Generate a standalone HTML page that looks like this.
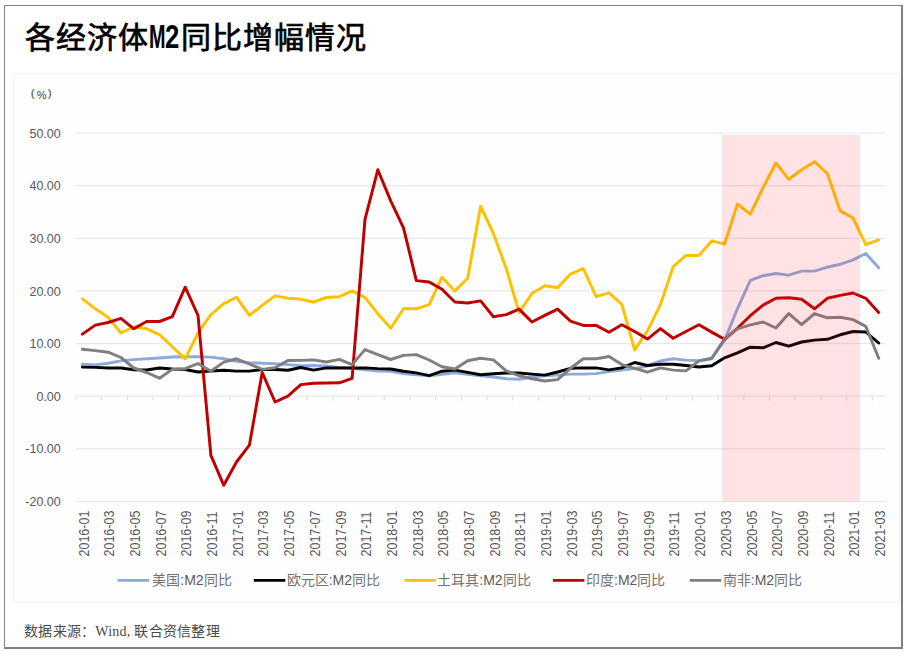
<!DOCTYPE html>
<html lang="zh-CN"><head><meta charset="utf-8"><title>各经济体M2同比增幅情况</title>
<style>
html,body{margin:0;padding:0;background:#fff;}
body{width:911px;height:657px;position:relative;overflow:hidden;font-family:'Liberation Sans', sans-serif;}
.frame{position:absolute;left:4px;top:5px;width:896px;height:641px;border-left:1px solid #7f7f7f;border-top:1px solid #7f7f7f;border-right:2px solid #7f7f7f;border-bottom:2px solid #7f7f7f;}
.title{position:absolute;left:25px;top:18px;font-size:30px;letter-spacing:1px;font-weight:500;-webkit-text-stroke:0.7px #000;color:#000;line-height:40px;white-space:nowrap;}
.mm{display:inline-block;width:16.1px;letter-spacing:0;font-weight:bold;-webkit-text-stroke:0;}
.mm span{display:inline-block;transform:scale(0.66,1.09);transform-origin:0 76%;}
.m2{display:inline-block;width:15.9px;letter-spacing:0;font-weight:bold;-webkit-text-stroke:0;}
.m2 span{display:inline-block;transform:scale(0.857,1.09);transform-origin:0 76%;}
.src{position:absolute;left:24px;top:622px;font-size:14px;letter-spacing:0.25px;color:#4a4a4a;line-height:20px;white-space:nowrap;font-family:'Liberation Serif',serif;}
svg{position:absolute;left:0;top:0;}
svg text{font-family:'Liberation Sans', sans-serif;}
</style></head>
<body>
<div class="frame"></div>
<svg width="911" height="657" viewBox="0 0 911 657">
<rect x="13.5" y="73.5" width="886" height="528.5" fill="#fefefe" stroke="#f3f3f3" stroke-width="1"/>
<line x1="76" x2="885.5" y1="133.00" y2="133.00" stroke="#000" stroke-opacity="0.09" stroke-width="1.2"/>
<line x1="76" x2="885.5" y1="185.64" y2="185.64" stroke="#000" stroke-opacity="0.09" stroke-width="1.2"/>
<line x1="76" x2="885.5" y1="238.28" y2="238.28" stroke="#000" stroke-opacity="0.09" stroke-width="1.2"/>
<line x1="76" x2="885.5" y1="290.92" y2="290.92" stroke="#000" stroke-opacity="0.09" stroke-width="1.2"/>
<line x1="76" x2="885.5" y1="343.56" y2="343.56" stroke="#000" stroke-opacity="0.09" stroke-width="1.2"/>
<line x1="76" x2="885.5" y1="396.20" y2="396.20" stroke="#000" stroke-opacity="0.09" stroke-width="1.2"/>
<line x1="76" x2="885.5" y1="448.84" y2="448.84" stroke="#000" stroke-opacity="0.09" stroke-width="1.2"/>
<line x1="76" x2="885.5" y1="501.48" y2="501.48" stroke="#000" stroke-opacity="0.09" stroke-width="1.2"/>
<path d="M76.0 396.2V400.4 M101.7 396.2V400.4 M127.4 396.2V400.4 M153.1 396.2V400.4 M178.7 396.2V400.4 M204.4 396.2V400.4 M230.1 396.2V400.4 M255.8 396.2V400.4 M281.5 396.2V400.4 M307.2 396.2V400.4 M332.9 396.2V400.4 M358.5 396.2V400.4 M384.2 396.2V400.4 M409.9 396.2V400.4 M435.6 396.2V400.4 M461.3 396.2V400.4 M487.0 396.2V400.4 M512.7 396.2V400.4 M538.3 396.2V400.4 M564.0 396.2V400.4 M589.7 396.2V400.4 M615.4 396.2V400.4 M641.1 396.2V400.4 M666.8 396.2V400.4 M692.5 396.2V400.4 M718.1 396.2V400.4 M743.8 396.2V400.4 M769.5 396.2V400.4 M795.2 396.2V400.4 M820.9 396.2V400.4 M846.6 396.2V400.4 M872.3 396.2V400.4" stroke="#d9d9d9" stroke-width="1"/>
<text transform="translate(60.8,137.6) scale(0.965,1)" text-anchor="end" font-size="13" fill="#595959">50.00</text>
<text transform="translate(60.8,190.2) scale(0.965,1)" text-anchor="end" font-size="13" fill="#595959">40.00</text>
<text transform="translate(60.8,242.9) scale(0.965,1)" text-anchor="end" font-size="13" fill="#595959">30.00</text>
<text transform="translate(60.8,295.5) scale(0.965,1)" text-anchor="end" font-size="13" fill="#595959">20.00</text>
<text transform="translate(60.8,348.2) scale(0.965,1)" text-anchor="end" font-size="13" fill="#595959">10.00</text>
<text transform="translate(60.8,400.8) scale(0.965,1)" text-anchor="end" font-size="13" fill="#595959">0.00</text>
<text transform="translate(60.8,453.4) scale(0.965,1)" text-anchor="end" font-size="13" fill="#595959">-10.00</text>
<text transform="translate(60.8,506.1) scale(0.965,1)" text-anchor="end" font-size="13" fill="#595959">-20.00</text>
<text transform="translate(88.6,556.5) rotate(-90) scale(1,1.1)" font-size="12.5" fill="#595959">2016-01</text>
<text transform="translate(114.3,556.5) rotate(-90) scale(1,1.1)" font-size="12.5" fill="#595959">2016-03</text>
<text transform="translate(140.0,556.5) rotate(-90) scale(1,1.1)" font-size="12.5" fill="#595959">2016-05</text>
<text transform="translate(165.7,556.5) rotate(-90) scale(1,1.1)" font-size="12.5" fill="#595959">2016-07</text>
<text transform="translate(191.4,556.5) rotate(-90) scale(1,1.1)" font-size="12.5" fill="#595959">2016-09</text>
<text transform="translate(217.1,556.5) rotate(-90) scale(1,1.1)" font-size="12.5" fill="#595959">2016-11</text>
<text transform="translate(242.7,556.5) rotate(-90) scale(1,1.1)" font-size="12.5" fill="#595959">2017-01</text>
<text transform="translate(268.4,556.5) rotate(-90) scale(1,1.1)" font-size="12.5" fill="#595959">2017-03</text>
<text transform="translate(294.1,556.5) rotate(-90) scale(1,1.1)" font-size="12.5" fill="#595959">2017-05</text>
<text transform="translate(319.8,556.5) rotate(-90) scale(1,1.1)" font-size="12.5" fill="#595959">2017-07</text>
<text transform="translate(345.5,556.5) rotate(-90) scale(1,1.1)" font-size="12.5" fill="#595959">2017-09</text>
<text transform="translate(371.2,556.5) rotate(-90) scale(1,1.1)" font-size="12.5" fill="#595959">2017-11</text>
<text transform="translate(396.9,556.5) rotate(-90) scale(1,1.1)" font-size="12.5" fill="#595959">2018-01</text>
<text transform="translate(422.5,556.5) rotate(-90) scale(1,1.1)" font-size="12.5" fill="#595959">2018-03</text>
<text transform="translate(448.2,556.5) rotate(-90) scale(1,1.1)" font-size="12.5" fill="#595959">2018-05</text>
<text transform="translate(473.9,556.5) rotate(-90) scale(1,1.1)" font-size="12.5" fill="#595959">2018-07</text>
<text transform="translate(499.6,556.5) rotate(-90) scale(1,1.1)" font-size="12.5" fill="#595959">2018-09</text>
<text transform="translate(525.3,556.5) rotate(-90) scale(1,1.1)" font-size="12.5" fill="#595959">2018-11</text>
<text transform="translate(551.0,556.5) rotate(-90) scale(1,1.1)" font-size="12.5" fill="#595959">2019-01</text>
<text transform="translate(576.7,556.5) rotate(-90) scale(1,1.1)" font-size="12.5" fill="#595959">2019-03</text>
<text transform="translate(602.3,556.5) rotate(-90) scale(1,1.1)" font-size="12.5" fill="#595959">2019-05</text>
<text transform="translate(628.0,556.5) rotate(-90) scale(1,1.1)" font-size="12.5" fill="#595959">2019-07</text>
<text transform="translate(653.7,556.5) rotate(-90) scale(1,1.1)" font-size="12.5" fill="#595959">2019-09</text>
<text transform="translate(679.4,556.5) rotate(-90) scale(1,1.1)" font-size="12.5" fill="#595959">2019-11</text>
<text transform="translate(705.1,556.5) rotate(-90) scale(1,1.1)" font-size="12.5" fill="#595959">2020-01</text>
<text transform="translate(730.8,556.5) rotate(-90) scale(1,1.1)" font-size="12.5" fill="#595959">2020-03</text>
<text transform="translate(756.5,556.5) rotate(-90) scale(1,1.1)" font-size="12.5" fill="#595959">2020-05</text>
<text transform="translate(782.1,556.5) rotate(-90) scale(1,1.1)" font-size="12.5" fill="#595959">2020-07</text>
<text transform="translate(807.8,556.5) rotate(-90) scale(1,1.1)" font-size="12.5" fill="#595959">2020-09</text>
<text transform="translate(833.5,556.5) rotate(-90) scale(1,1.1)" font-size="12.5" fill="#595959">2020-11</text>
<text transform="translate(859.2,556.5) rotate(-90) scale(1,1.1)" font-size="12.5" fill="#595959">2021-01</text>
<text transform="translate(884.9,556.5) rotate(-90) scale(1,1.1)" font-size="12.5" fill="#595959">2021-03</text>
<polyline points="82.4,364.1 95.3,364.9 108.1,363.3 121.0,360.9 133.8,359.6 146.6,358.8 159.5,358.0 172.3,357.0 185.2,356.7 198.0,356.7 210.9,357.1 223.7,358.8 236.5,361.4 249.4,362.6 262.2,363.3 275.1,363.6 287.9,364.6 300.8,365.7 313.6,365.5 326.4,366.0 339.3,367.4 352.1,368.3 365.0,369.9 377.8,371.0 390.7,371.4 403.5,373.5 416.3,374.9 429.2,375.9 442.0,374.2 454.9,372.7 467.7,374.4 480.6,375.7 493.4,377.0 506.2,378.8 519.1,379.2 531.9,377.0 544.8,375.9 557.6,375.1 570.5,374.1 583.3,374.1 596.1,373.6 609.0,371.5 621.8,370.1 634.7,368.6 647.5,366.0 660.4,361.0 673.2,358.8 686.0,360.1 698.9,360.8 711.7,358.7 724.6,340.4 737.4,308.8 750.3,280.4 763.1,275.7 775.9,273.5 788.8,275.1 801.6,271.1 814.5,271.1 827.3,267.2 840.2,264.3 853.0,259.9 865.8,253.5 878.7,267.8" fill="none" stroke="#8eaadb" stroke-width="2.95" stroke-linejoin="round" stroke-linecap="round"/>
<polyline points="82.4,367.1 95.3,367.4 108.1,368.0 121.0,368.0 133.8,369.8 146.6,370.0 159.5,368.0 172.3,369.0 185.2,369.5 198.0,372.0 210.9,371.0 223.7,370.2 236.5,371.1 249.4,371.1 262.2,369.6 275.1,369.5 287.9,370.2 300.8,367.5 313.6,370.1 326.4,367.9 339.3,367.9 352.1,367.9 365.0,367.9 377.8,368.6 390.7,369.0 403.5,371.3 416.3,372.9 429.2,375.6 442.0,371.2 454.9,370.1 467.7,372.4 480.6,374.7 493.4,373.8 506.2,373.0 519.1,373.0 531.9,374.1 544.8,375.1 557.6,372.0 570.5,368.3 583.3,367.9 596.1,367.9 609.0,369.9 621.8,367.9 634.7,362.5 647.5,365.5 660.4,364.2 673.2,364.2 686.0,365.5 698.9,367.0 711.7,365.8 724.6,357.8 737.4,352.8 750.3,347.2 763.1,347.8 775.9,342.5 788.8,346.2 801.6,342.0 814.5,340.1 827.3,339.3 840.2,334.8 853.0,331.5 865.8,332.0 878.7,343.0" fill="none" stroke="#000000" stroke-width="2.95" stroke-linejoin="round" stroke-linecap="round"/>
<polyline points="82.4,298.8 95.3,308.8 108.1,317.2 121.0,333.0 133.8,326.7 146.6,328.8 159.5,334.6 172.3,346.7 185.2,358.8 198.0,332.8 210.9,314.6 223.7,303.6 236.5,297.2 249.4,315.4 262.2,305.4 275.1,295.9 287.9,298.3 300.8,299.1 313.6,302.2 326.4,297.5 339.3,296.7 352.1,290.9 365.0,297.5 377.8,313.6 390.7,328.3 403.5,308.8 416.3,308.8 429.2,304.7 442.0,277.2 454.9,290.9 467.7,278.3 480.6,206.2 493.4,233.5 506.2,268.3 519.1,312.5 531.9,293.6 544.8,285.7 557.6,287.8 570.5,274.1 583.3,268.5 596.1,296.7 609.0,292.8 621.8,304.3 634.7,349.9 647.5,330.9 660.4,304.6 673.2,266.7 686.0,255.4 698.9,255.4 711.7,240.9 724.6,244.1 737.4,204.1 750.3,214.1 763.1,187.7 775.9,163.0 788.8,179.3 801.6,169.8 814.5,161.7 827.3,173.5 840.2,210.9 853.0,218.0 865.8,244.6 878.7,239.9" fill="none" stroke="#ffc000" stroke-width="2.95" stroke-linejoin="round" stroke-linecap="round"/>
<polyline points="82.4,334.1 95.3,325.1 108.1,322.5 121.0,318.3 133.8,328.8 146.6,321.5 159.5,321.5 172.3,316.7 185.2,287.2 198.0,315.4 210.9,455.4 223.7,485.2 236.5,462.0 249.4,445.2 262.2,372.5 275.1,402.0 287.9,396.2 300.8,384.6 313.6,383.2 326.4,383.0 339.3,382.8 352.1,378.3 365.0,219.3 377.8,169.8 390.7,200.9 403.5,227.8 416.3,280.6 429.2,282.0 442.0,289.3 454.9,302.0 467.7,303.0 480.6,300.9 493.4,316.7 506.2,314.6 519.1,309.1 531.9,322.0 544.8,315.4 557.6,309.1 570.5,321.2 583.3,325.4 596.1,325.4 609.0,332.2 621.8,324.7 634.7,331.5 647.5,339.1 660.4,328.6 673.2,338.3 686.0,331.5 698.9,324.7 711.7,332.1 724.6,339.3 737.4,328.3 750.3,315.7 763.1,305.1 775.9,298.3 788.8,297.8 801.6,299.3 814.5,308.8 827.3,298.3 840.2,295.4 853.0,293.0 865.8,298.3 878.7,312.5" fill="none" stroke="#c00000" stroke-width="2.95" stroke-linejoin="round" stroke-linecap="round"/>
<polyline points="82.4,349.2 95.3,350.6 108.1,352.2 121.0,357.5 133.8,368.0 146.6,372.5 159.5,378.2 172.3,369.4 185.2,368.7 198.0,363.5 210.9,371.2 223.7,362.1 236.5,358.8 249.4,364.0 262.2,369.4 275.1,367.8 287.9,360.5 300.8,360.4 313.6,359.9 326.4,362.0 339.3,359.4 352.1,364.6 365.0,349.6 377.8,354.6 390.7,359.5 403.5,355.4 416.3,354.6 429.2,360.0 442.0,366.7 454.9,369.0 467.7,360.8 480.6,358.3 493.4,359.9 506.2,370.9 519.1,375.7 531.9,378.8 544.8,381.0 557.6,379.6 570.5,368.3 583.3,358.8 596.1,358.8 609.0,356.5 621.8,364.6 634.7,368.3 647.5,372.2 660.4,367.9 673.2,370.1 686.0,370.9 698.9,360.9 711.7,358.3 724.6,338.8 737.4,328.8 750.3,324.9 763.1,322.0 775.9,328.0 788.8,313.6 801.6,324.6 814.5,313.6 827.3,317.8 840.2,317.2 853.0,319.6 865.8,326.4 878.7,358.3" fill="none" stroke="#7f7f7f" stroke-width="2.95" stroke-linejoin="round" stroke-linecap="round"/>
<rect x="722" y="135" width="138" height="366.5" fill="rgb(255,32,48)" fill-opacity="0.125"/>
<line x1="117.7" x2="149.2" y1="580.4" y2="580.4" stroke="#8eaadb" stroke-width="2.75"/>
<text x="152.3" y="584.5" font-size="14" fill="#747474">美国<tspan fill="#595959">:M2</tspan>同比</text>
<line x1="253.8" x2="285.3" y1="580.4" y2="580.4" stroke="#000000" stroke-width="2.75"/>
<text x="286.7" y="584.5" font-size="14" fill="#747474">欧元区<tspan fill="#595959">:M2</tspan>同比</text>
<line x1="404.5" x2="436.0" y1="580.4" y2="580.4" stroke="#ffc000" stroke-width="2.75"/>
<text x="437.3" y="584.5" font-size="14" fill="#747474">土耳其<tspan fill="#595959">:M2</tspan>同比</text>
<line x1="552.9" x2="584.4" y1="580.4" y2="580.4" stroke="#c00000" stroke-width="2.75"/>
<text x="586" y="584.5" font-size="14" fill="#747474">印度<tspan fill="#595959">:M2</tspan>同比</text>
<line x1="689.7" x2="721.2" y1="580.4" y2="580.4" stroke="#7f7f7f" stroke-width="2.75"/>
<text x="722.8" y="584.5" font-size="14" fill="#747474">南非<tspan fill="#595959">:M2</tspan>同比</text>
<text x="30.8" y="96.9" font-size="11.6" fill="#404040">(</text>
<text x="36.8" y="98.6" font-size="11" fill="#404040">%</text>
<text x="47.8" y="96.9" font-size="11.6" fill="#404040">)</text>
</svg>
<div class="title">各经济体<span class="mm"><span>M</span></span><span class="m2"><span>2</span></span>同比增幅情况</div>
<div class="src">数据来源：Wind, 联合资信整理</div>
</body></html>
